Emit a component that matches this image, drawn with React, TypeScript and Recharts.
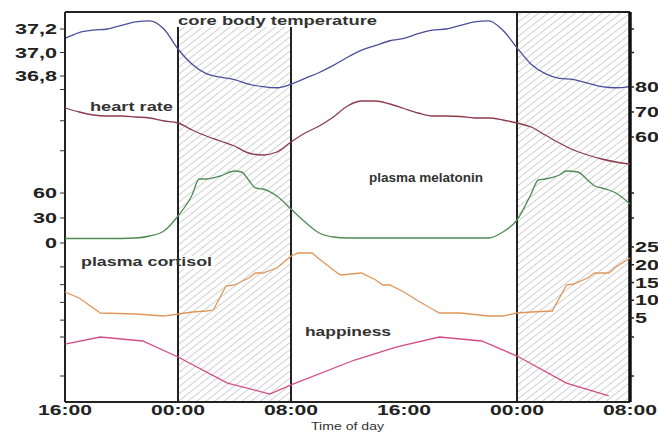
import { ComposedChart, Line, XAxis, YAxis, ReferenceArea, ReferenceLine } from "recharts";

// hours after 16:00 on day one
const hours = [
  0, 1, 2, 3, 4, 5, 6, 7, 8, 9, 10, 11, 12, 13, 14, 15, 16, 17, 18, 19, 20,
  21, 22, 23, 24, 25, 26, 27, 28, 29, 30, 31, 32, 33, 34, 35, 36, 37, 38, 39, 40,
];

const temperature = [
  37.12, 37.17, 37.19, 37.2, 37.23, 37.26, 37.27, 37.2, 37.03, 36.9, 36.82,
  36.79, 36.77, 36.73, 36.71, 36.7, 36.73, 36.78, 36.83, 36.89, 36.96, 37.02,
  37.06, 37.1, 37.12, 37.16, 37.19, 37.2, 37.23, 37.26, 37.27, 37.19, 37.04,
  36.9, 36.82, 36.78, 36.77, 36.74, 36.71, 36.7, 36.71,
];

const heartRate = [
  71.6, 70.0, 68.8, 68.4, 68.4, 68.0, 67.6, 66.4, 65.6, 62.8, 60.4, 58.4, 56.4,
  53.6, 52.8, 54.0, 58.0, 61.6, 64.4, 68.0, 72.4, 74.4, 74.4, 73.2, 71.4, 69.6,
  68.4, 68.4, 68.2, 67.6, 67.6, 66.8, 65.6, 64.0, 60.8, 57.6, 54.8, 52.8, 51.2,
  50.0, 49.2,
];

const melatoninHours = [
  0, 3, 5, 6, 7, 8, 9, 9.5, 10, 11, 12, 12.5, 13, 13.5, 14, 15, 16, 17, 18, 19,
  20, 25, 30, 31, 32, 33, 33.5, 34, 35, 35.5, 36.3, 37, 37.5, 38, 38.5, 39, 40,
];
const melatonin = [
  5.4, 5.4, 6.0, 8.4, 14.4, 32.4, 57.6, 76.8, 76.8, 80.4, 86.4, 85.2, 75.6,
  66.0, 64.8, 56.4, 40.8, 25.2, 12.0, 7.2, 6.0, 6.0, 6.0, 13.2, 27.6, 58.8,
  75.6, 76.8, 81.6, 86.4, 85.2, 75.6, 68.4, 66.0, 63.6, 60.0, 46.8,
];

const cortisolHours = [
  0, 1, 2, 2.5, 5, 7, 8, 9, 10, 10.5, 11.4, 12, 13, 13.5, 14, 15, 16, 16.5,
  17.5, 18, 19, 19.5, 21, 22, 22.5, 23, 24, 25, 26, 26.5, 28, 30, 31, 32, 33,
  34.5, 35.5, 36, 37, 37.5, 38.5, 39, 40,
];
const cortisol = [
  12.32, 10.63, 7.82, 6.41, 6.13, 5.56, 6.13, 6.69, 6.97, 7.25, 14.01, 14.3,
  16.27, 17.68, 17.68, 19.08, 22.46, 23.31, 23.31, 21.62, 18.52, 17.11, 17.68,
  15.7, 14.3, 14.3, 12.32, 9.79, 7.54, 6.41, 6.41, 5.56, 5.56, 6.41, 6.69,
  6.97, 14.3, 14.58, 16.27, 17.68, 17.68, 19.37, 21.9,
];

const happinessHours = [0, 2.5, 5.5, 8, 11.5, 14.5, 16, 20.5, 23.5, 26.5, 29.5, 32, 35.5, 38.5];
const happiness = [7.1, 8.0, 7.49, 5.44, 2.1, 0.69, 1.85, 5.05, 6.72, 8.0, 7.49, 5.56, 2.1, 0.44];

const timeTicks = [0, 8, 16, 24, 32, 40];
const timeLabels = ["16:00", "00:00", "08:00", "16:00", "00:00", "08:00"];
const nightStarts = [8, 32];
const nightEnds = [16, 40];
const dividers = [8, 16, 32];

const tempTicks = [37.2, 37.0, 36.8];
const tempLabels = ["37,2", "37,0", "36,8"];
const tempRightTicks = [37.2, 37.0];
const heartTicks = [80, 70, 60];
const heartLabels = ["80", "70", "60"];
const heartLeftTicks = [79, 66.5, 54.5];
const melatoninTicks = [60, 30, 0];
const melatoninLabels = ["60", "30", "0"];
const melatoninRightTicks = [60, 30];
const cortisolTicks = [25, 20, 15, 10, 5];
const cortisolLabels = ["25", "20", "15", "10", "5"];
const cortisolLeftTicks = [19.4, 14.4, 9.4, 4.4];
const happinessTicks = [8, 3];

const W = 658;
const H = 436;
const FONT = "'Liberation Sans', Arial, sans-serif";

const toRows = (xs: number[], ys: number[]) => xs.map((h, i) => ({ h, v: ys[i] }));

const textWidth = (s: string) =>
  s.split("").reduce((w, c) => w + (/\d/.test(c) ? 12 : 6), 0);

function makeTick(ticks: number[], labels: string[] | undefined, dy: string) {
  return (p: any) => {
    const i = ticks.findIndex((t) => Math.abs(t - p.payload.value) < 1e-6);
    const s = labels && i >= 0 ? labels[i] : "";
    if (!s) return <g />;
    return (
      <text
        x={p.x}
        y={p.y}
        dy={dy}
        textAnchor={p.textAnchor}
        fontFamily={FONT}
        fontWeight="bold"
        fontSize={14}
        fill="#222"
        textLength={textWidth(s)}
        lengthAdjust="spacingAndGlyphs"
      >
        {s}
      </text>
    );
  };
}

type PanelProps = {
  rows: { h: number; v: number }[];
  color: string;
  domain: [number, number];
  curve: "monotone" | "linear";
  leftTicks: number[];
  leftLabels?: string[];
  rightTicks: number[];
  rightLabels?: string[];
  base?: boolean;
};

function Panel({ rows, color, domain, curve, leftTicks, leftLabels, rightTicks, rightLabels, base }: PanelProps) {
  return (
    <div style={{ position: "absolute", left: 0, top: 0 }}>
      <ComposedChart
        width={W}
        height={H}
        data={rows}
        margin={{ top: base ? 0 : 12, right: 0, bottom: 0, left: 0 }}
      >
        {base && (
          <defs>
            <pattern id="hatch" patternUnits="userSpaceOnUse" width={5.6} height={8} patternTransform="rotate(52)">
              <line x1={0} y1={0} x2={0} y2={8} stroke="#a3a3a3" strokeWidth={1} />
            </pattern>
          </defs>
        )}
        {base && (
          <XAxis
            xAxisId="top"
            orientation="top"
            type="number"
            domain={[0, 40]}
            height={12}
            tick={false}
            tickLine={false}
            axisLine={{ stroke: "#222", strokeWidth: 2 }}
          />
        )}
        <XAxis
          dataKey="h"
          type="number"
          domain={[0, 40]}
          ticks={timeTicks}
          interval={0}
          height={34}
          tickLine={false}
          tickSize={0}
          tickMargin={3}
          axisLine={base ? { stroke: "#222", strokeWidth: 2 } : false}
          tick={base ? makeTick(timeTicks, timeLabels, "0.72em") : false}
        />
        <YAxis
          yAxisId="l"
          orientation="left"
          width={65}
          type="number"
          domain={domain}
          allowDataOverflow
          ticks={leftTicks}
          interval={0}
          tickSize={5}
          tickMargin={3}
          tickLine={{ stroke: "#333" }}
          axisLine={base ? { stroke: "#222", strokeWidth: 2 } : false}
          tick={makeTick(leftTicks, leftLabels, "0.36em")}
        />
        <YAxis
          yAxisId="r"
          orientation="right"
          width={28}
          type="number"
          domain={domain}
          allowDataOverflow
          ticks={rightTicks}
          interval={0}
          tickSize={4}
          tickMargin={1}
          tickLine={{ stroke: "#222", strokeWidth: 1.5 }}
          axisLine={base ? { stroke: "#111", strokeWidth: 3.5 } : false}
          tick={makeTick(rightTicks, rightLabels, "0.36em")}
        />
        {base &&
          nightStarts.map((s, i) => (
            <ReferenceArea
              key={`n${i}`}
              yAxisId="l"
              x1={s}
              x2={nightEnds[i]}
              fill="url(#hatch)"
              fillOpacity={1}
              stroke="none"
            />
          ))}
        {base &&
          dividers.map((d) => (
            <ReferenceLine key={`d${d}`} yAxisId="l" x={d} stroke="#222" strokeWidth={2} />
          ))}
        <Line
          yAxisId="l"
          dataKey="v"
          type={curve}
          stroke={color}
          strokeWidth={1.3}
          dot={false}
          isAnimationActive={false}
        />
      </ComposedChart>
    </div>
  );
}

const notes = [
  { text: "core body temperature", x: 178, y: 24.5, w: 199, bg: [176, 13, 206, 14] },
  { text: "heart rate", x: 90, y: 110.5, w: 83 },
  { text: "plasma melatonin", x: 369, y: 181.5, w: 114 },
  { text: "plasma cortisol", x: 81, y: 265.5, w: 131, bg: [179.5, 256, 35, 13] },
  { text: "happiness", x: 305, y: 335.5, w: 86 },
];

export default function App() {
  return (
    <div style={{ position: "absolute", left: 0, top: 0, width: W, height: H, overflow: "hidden", background: "#fff" }}>
      <Panel
        base
        rows={toRows(hours, temperature)}
        color="#4b4e9b"
        domain={[34.0255, 37.3447]}
        curve="monotone"
        leftTicks={tempTicks}
        leftLabels={tempLabels}
        rightTicks={tempRightTicks}
      />
      <Panel
        rows={toRows(hours, heartRate)}
        color="#8a3c4c"
        domain={[-46, 110]}
        curve="monotone"
        leftTicks={heartLeftTicks}
        rightTicks={heartTicks}
        rightLabels={heartLabels}
      />
      <Panel
        rows={toRows(melatoninHours, melatonin)}
        color="#4f8c55"
        domain={[-190.8, 277.2]}
        curve="monotone"
        leftTicks={melatoninTicks}
        leftLabels={melatoninLabels}
        rightTicks={melatoninRightTicks}
      />
      <Panel
        rows={toRows(cortisolHours, cortisol)}
        color="#e0965a"
        domain={[-18.66, 91.2]}
        curve="linear"
        leftTicks={cortisolLeftTicks}
        rightTicks={cortisolTicks}
        rightLabels={cortisolLabels}
      />
      <Panel
        rows={toRows(happinessHours, happiness)}
        color="#d44c86"
        domain={[-0.333, 49.67]}
        curve="linear"
        leftTicks={happinessTicks}
        rightTicks={happinessTicks}
      />
      <svg width={W} height={H} style={{ position: "absolute", left: 0, top: 0, pointerEvents: "none" }}>
        {notes.map((n) => (
          <g key={n.text}>
            {n.bg && <rect x={n.bg[0]} y={n.bg[1]} width={n.bg[2]} height={n.bg[3]} fill="#fff" />}
            <text
              x={n.x}
              y={n.y}
              fontFamily={FONT}
              fontWeight="bold"
              fontSize={12}
              fill="#333"
              textLength={n.w}
              lengthAdjust="spacingAndGlyphs"
            >
              {n.text}
            </text>
          </g>
        ))}
        <text x={311} y={430} fontFamily={FONT} fontSize={11} fill="#333" textLength={73} lengthAdjust="spacingAndGlyphs">
          Time of day
        </text>
      </svg>
    </div>
  );
}
